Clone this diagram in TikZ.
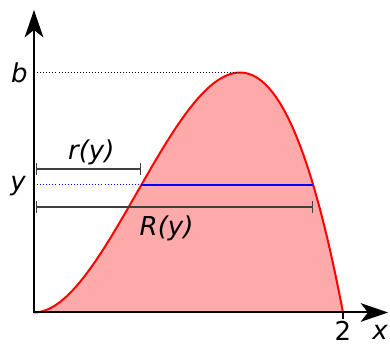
\documentclass[tikz,border=0pt]{standalone}
\usepackage{fontspec}
\setmainfont{DejaVu Sans}
\usetikzlibrary{
    arrows.meta,
    positioning
}
\definecolor{areafill}{HTML}{FFAAAA}
\tikzset{
    axis/.style={
        line width=1.5pt,
        line cap=rect,
        -{Stealth[length=20.5pt, width=14pt, inset=5.5pt]}
    },
    curve/.style={
        red,
        line width=1.5pt
    },
    level/.style={
        blue,
        line width=1.4pt
    },
    guide/.style={
        line width=0.7pt,
        dash pattern=on 0.7pt off 1.6pt
    },
    span/.style={
        draw=black!75,
        line width=1.1pt,
        {Bar[width=9pt]}-{Bar[width=9pt]}
    },
    lbl/.style={
        font=\fontsize{19.5}{23}\selectfont\itshape,
        inner sep=1pt
    },
    num/.style={
        font=\fontsize{19.5}{23}\selectfont,
        inner sep=0.5pt
    }
}

\begin{document}
\begin{tikzpicture}[x=115.875pt, y=151.875pt]
\useasboundingbox (-0.2201,-0.1654) rectangle (2.3042,1.5432);

\coordinate (O) at (0,0);
\coordinate (ytop) at (0,1.4938);
\coordinate (xtip) at (2.2913,0);
\coordinate (peak) at (4/3,32/27);
\coordinate (blev) at (0,32/27);
\coordinate (ylev) at (0,0.63);
\coordinate (rl) at (0.6948,0.63);
\coordinate (rr) at (1.8072,0.63);
\coordinate (rbarS) at (0.013,0.7086);
\coordinate (rbarE) at (0.6948,0.7086);
\coordinate (RbarS) at (0.013,0.521);
\coordinate (RbarE) at (1.8072,0.521);
\coordinate (two) at (2,0);
\coordinate (twotick) at (2,-0.03);

% area under the curve
\fill[areafill] plot[domain=0:2, samples=80] (\x,{\x*\x*(2-\x)}) -- cycle;
\draw[curve] plot[domain=0:2, samples=80] (\x,{\x*\x*(2-\x)});

% guides and the level y
\draw[guide] (blev) -- (peak);
\draw[guide, blue] (ylev) -- (rl);
\draw[level] (rl) -- (rr);

% radii
\draw[span] (rbarS) -- node[lbl, above=1.5pt, xshift=2pt] (rlab) {r(y)} (rbarE);
\draw[span] (RbarS) -- node[lbl, below=5pt, xshift=-6pt] (Rlab) {R(y)} (RbarE);

% axes
\draw[axis] (O) -- (ytop);
\draw[axis] (O) -- (xtip);
\draw[line width=1pt] (two) -- (twotick);

\node[lbl, left=3.5pt of blev] (blab) {b};
\node[lbl, left=5pt of ylev, yshift=-1pt] (ylab) {y};
\node[num, below=1.5pt of twotick] (twolab) {2};
\node[lbl] (xlab) at (2.2395,-0.1) {x};

\end{tikzpicture}
\end{document}
